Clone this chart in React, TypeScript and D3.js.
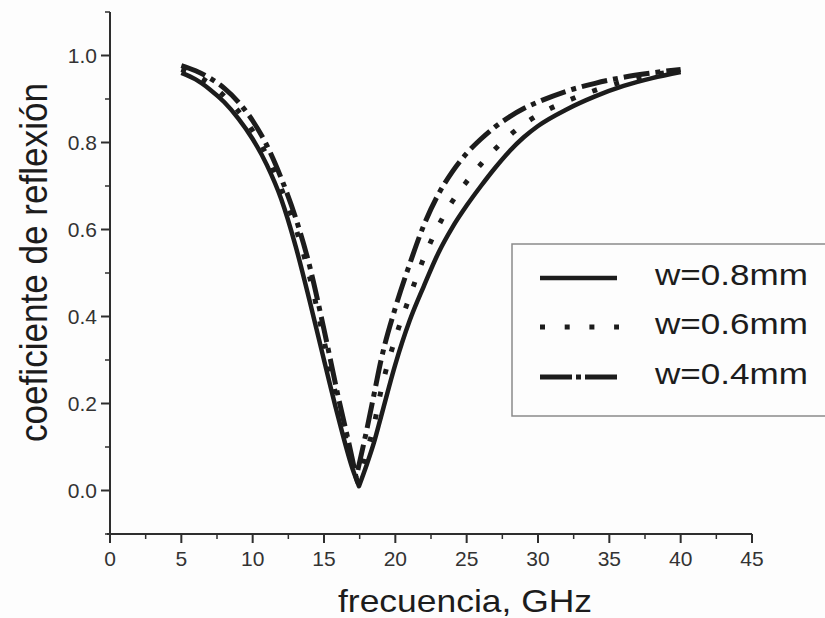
import React from "react";
import * as d3 from "d3";

// ---- data ----
const xTicks = [0, 5, 10, 15, 20, 25, 30, 35, 40, 45];
const yTicks = [0.0, 0.2, 0.4, 0.6, 0.8, 1.0];

const seriesNames = ["w=0.8mm", "w=0.6mm", "w=0.4mm"];

// w = 0.8 mm (solid)
const freq08 = [5, 6, 7, 8, 9, 10, 11, 12, 13, 14, 15, 16, 17, 17.45, 18, 18.5, 19, 20, 21, 22, 23, 24, 25, 26, 27, 28, 29, 30, 32, 34, 36, 38, 40];
const refl08 = [0.96, 0.945, 0.922, 0.893, 0.855, 0.808, 0.748, 0.67, 0.563, 0.435, 0.3, 0.168, 0.05, 0.01, 0.06, 0.11, 0.17, 0.29, 0.39, 0.47, 0.545, 0.605, 0.655, 0.7, 0.742, 0.78, 0.812, 0.838, 0.876, 0.906, 0.93, 0.948, 0.962];

// w = 0.6 mm (dotted)
const freq06 = [5, 6, 7, 8, 9, 10, 11, 12, 13, 14, 15, 16, 17, 17.35, 18, 18.5, 19, 20, 21, 22, 23, 24, 25, 26, 27, 28, 29, 30, 32, 34, 36, 38, 40];
const refl06 = [0.968, 0.955, 0.935, 0.907, 0.872, 0.827, 0.77, 0.695, 0.605, 0.49, 0.345, 0.195, 0.06, 0.02, 0.09, 0.15, 0.23, 0.35, 0.445, 0.535, 0.607, 0.665, 0.71, 0.75, 0.785, 0.816, 0.842, 0.863, 0.895, 0.92, 0.94, 0.955, 0.966];

// w = 0.4 mm (dash-dot)
const freq04 = [5, 6, 7, 8, 9, 10, 11, 12, 13, 14, 15, 16, 17, 17.25, 18, 18.5, 19, 20, 21, 22, 23, 24, 25, 26, 27, 28, 29, 30, 32, 34, 36, 38, 40];
const refl04 = [0.977, 0.965, 0.948, 0.925, 0.893, 0.85, 0.793, 0.718, 0.628, 0.515, 0.37, 0.215, 0.07, 0.03, 0.14, 0.22, 0.3, 0.42, 0.52, 0.61, 0.68, 0.733, 0.775, 0.808, 0.836, 0.859, 0.878, 0.893, 0.918, 0.936, 0.95, 0.96, 0.968];

const FONT = "'Liberation Sans', Arial, Helvetica, sans-serif";
const W = 825;
const H = 618;
const INK = "#1c1c1c";
const AXIS = "#2e2e2e";

export default function App() {
  const x = d3.scaleLinear().domain([0, 45]).range([110, 752]);
  const y = d3.scaleLinear().domain([-0.1, 1.1]).range([534, 12]);

  const lineGen = d3
    .line<[number, number]>()
    .x((d) => x(d[0]))
    .y((d) => y(d[1]))
    .curve(d3.curveMonotoneX);

  // build a path with a sharp vertex at the minimum
  const makePath = (fs: number[], vs: number[]) => {
    const pts: [number, number][] = fs.map((f, i) => [f, vs[i]]);
    let mi = 0;
    vs.forEach((v, i) => {
      if (v < vs[mi]) mi = i;
    });
    const left = lineGen(pts.slice(0, mi + 1)) || "";
    const right = (lineGen(pts.slice(mi)) || "").replace(/^M/, "L");
    return left + right;
  };

  const series = [
    { name: seriesNames[0], d: makePath(freq08, refl08), dash: "none", legendDash: "none", width: 4.5 },
    { name: seriesNames[1], d: makePath(freq06, refl06), dash: "5 18", legendDash: "5 19.7", width: 5 },
    { name: seriesNames[2], d: makePath(freq04, refl04), dash: "26 6 5 6", legendDash: "32 4 5 4", width: 5 },
  ];

  const xMinor = d3.range(2.5, 45, 5);
  const yMinor = d3.range(-0.1, 1.1, 0.2).map((v) => Math.round(v * 10) / 10);

  const legendY = [278, 327, 377];
  const legendTextY = [285, 334, 384];

  return (
    <svg
      width={W}
      height={H}
      style={{ position: "absolute", left: 0, top: 0, background: "#fff" }}
      fontFamily={FONT}
    >
      <rect x={0} y={0} width={W} height={H} fill="#fdfdfd" />

      {/* curves */}
      {series.map((s, i) => (
        <path
          key={i}
          d={s.d}
          fill="none"
          stroke={INK}
          strokeWidth={s.width}
          strokeDasharray={s.dash}
          strokeLinecap="butt"
          strokeLinejoin="round"
        />
      ))}

      {/* y axis */}
      <line x1={x(0)} x2={x(0)} y1={y(1.1)} y2={y(-0.1)} stroke={AXIS} strokeWidth={2} />
      {yTicks.map((t) => (
        <g key={"yt" + t}>
          <line x1={x(0) - 9} x2={x(0)} y1={y(t)} y2={y(t)} stroke={AXIS} strokeWidth={2} />
          <text
            x={97}
            y={y(t)}
            dy="0.35em"
            textAnchor="end"
            fontSize={21}
            fill="#333"
          >
            {t.toFixed(1)}
          </text>
        </g>
      ))}
      {yMinor.map((t) => (
        <line key={"ym" + t} x1={x(0) - 5} x2={x(0)} y1={y(t)} y2={y(t)} stroke={AXIS} strokeWidth={1.5} />
      ))}

      {/* x axis */}
      <line x1={x(0) - 3} x2={x(45)} y1={y(-0.1)} y2={y(-0.1)} stroke={AXIS} strokeWidth={2} />
      {xTicks.map((t) => (
        <g key={"xt" + t}>
          <line x1={x(t)} x2={x(t)} y1={y(-0.1)} y2={y(-0.1) + 9} stroke={AXIS} strokeWidth={2} />
          <text x={x(t)} y={566} textAnchor="middle" fontSize={21} fill="#333">
            {t}
          </text>
        </g>
      ))}
      {xMinor.map((t) => (
        <line key={"xm" + t} x1={x(t)} x2={x(t)} y1={y(-0.1)} y2={y(-0.1) + 5} stroke={AXIS} strokeWidth={1.5} />
      ))}

      {/* axis titles */}
      <text
        x={465}
        y={612}
        textAnchor="middle"
        fontSize={31.5}
        fill={INK}
        textLength={254}
        lengthAdjust="spacingAndGlyphs"
      >
        frecuencia, GHz
      </text>
      <text
        transform="translate(47,262.5) rotate(-90)"
        textAnchor="middle"
        fontSize={38}
        fill={INK}
        textLength={359}
        lengthAdjust="spacingAndGlyphs"
      >
        coeficiente de reflexión
      </text>

      {/* legend */}
      <rect x={512} y={244} width={330} height={172} fill="none" stroke="#8a8a8a" strokeWidth={1.5} />
      {series.map((s, i) => (
        <g key={"lg" + i}>
          <line
            x1={540}
            x2={i === 1 ? 619 : 617}
            y1={legendY[i]}
            y2={legendY[i]}
            stroke={INK}
            strokeWidth={i === 0 ? 4.5 : 5}
            strokeDasharray={s.legendDash}
          />
          <text
            x={655}
            y={legendTextY[i]}
            fontSize={30}
            fill={INK}
            textLength={153}
            lengthAdjust="spacingAndGlyphs"
          >
            {s.name}
          </text>
        </g>
      ))}
    </svg>
  );
}
